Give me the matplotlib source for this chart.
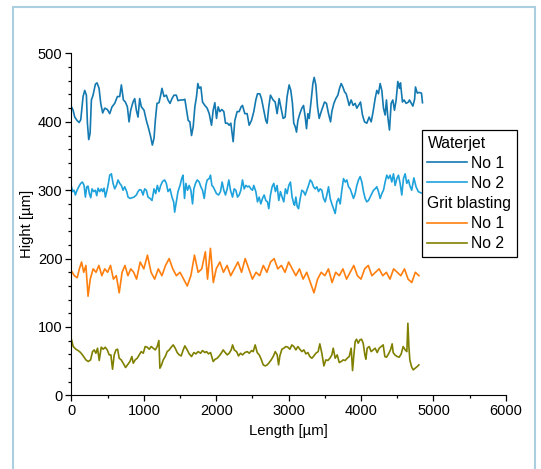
import matplotlib
matplotlib.use("Agg")
import matplotlib.pyplot as plt
from matplotlib.lines import Line2D
from matplotlib.patches import Rectangle
from matplotlib.ticker import MultipleLocator

plt.rcParams['font.family'] = ['Liberation Sans', 'DejaVu Sans']

# --- profile data (Length in um, Hight in um) ---
wj1_x = [0, 23, 46, 78, 106, 129, 161, 184, 207, 221, 239, 258, 276, 299, 331, 354, 382, 405, 432, 460,
         497, 529, 561, 598, 635, 667, 690, 718, 745, 773, 796, 819, 851, 874, 897, 920, 943, 966, 1003, 1035,
         1067, 1095, 1118, 1141, 1159, 1182, 1210, 1233, 1251, 1279, 1311, 1334, 1362, 1389, 1417, 1449, 1472, 1509, 1541,
         1567, 1590, 1613, 1636, 1659, 1682, 1705, 1728, 1746, 1765, 1788, 1811, 1843, 1875, 1903, 1935, 1958, 1981, 2004, 2027,
         2050, 2078, 2105, 2128, 2156, 2179, 2202, 2234, 2257, 2289, 2317, 2344, 2363, 2395, 2427, 2455, 2487, 2519, 2547, 2570,
         2602, 2625, 2657, 2685, 2703, 2726, 2749, 2786, 2814, 2841, 2869, 2892, 2924, 2952, 2979, 3007, 3030, 3053, 3071,
         3091, 3109, 3128, 3155, 3183, 3206, 3229, 3247, 3266, 3284, 3312, 3335, 3353, 3376, 3399, 3422, 3450, 3473, 3496, 3523,
         3551, 3579, 3597, 3625, 3652, 3680, 3703, 3726, 3749, 3772, 3795, 3818, 3836, 3864, 3891, 3919, 3942, 3965, 3993, 4020,
         4048, 4080, 4112, 4140, 4167, 4195, 4218, 4241, 4264, 4287, 4310, 4333, 4351, 4370, 4393, 4416, 4439, 4462, 4485, 4508,
         4531, 4545, 4572, 4595, 4623, 4655, 4669, 4716, 4740, 4752, 4777, 4800, 4835, 4849]
wj1_y = [422, 417, 407, 402, 399, 403, 437, 446, 439, 398, 374, 383, 432, 439, 455, 457, 449, 427, 413, 420,
         418, 412, 422, 427, 437, 437, 454, 432, 429, 422, 400, 417, 429, 434, 417, 407, 434, 422, 417, 402,
         390, 378, 366, 376, 402, 427, 428, 439, 449, 437, 439, 432, 427, 434, 439, 439, 431, 432, 432,
         433, 417, 402, 400, 380, 393, 422, 437, 456, 449, 451, 429, 424, 420, 412, 395, 417, 428, 405, 422,
         415, 418, 415, 398, 398, 395, 398, 371, 402, 415, 415, 422, 424, 412, 412, 395, 402, 415, 432, 441,
         441, 434, 417, 402, 398, 422, 439, 432, 429, 412, 434, 422, 405, 407, 437, 454, 446, 427, 398,
         393, 385, 402, 412, 420, 424, 407, 390, 412, 405, 432, 456, 465, 454, 422, 405, 415, 422, 429, 427,
         412, 400, 415, 427, 434, 439, 449, 456, 451, 444, 441, 432, 424, 432, 424, 427, 420, 424, 429, 410,
         400, 398, 407, 400, 415, 434, 446, 441, 456, 446, 420, 410, 432, 407, 388, 427, 432, 417, 432, 459,
         449, 457, 429, 432, 427, 429, 432, 423, 433, 451, 442, 443, 442, 428]

wj2_x = [0, 18, 37, 55, 74, 101, 129, 152, 175, 193, 212, 230, 248, 267, 285, 308, 331, 350, 368, 391,
         414, 432, 451, 469, 492, 511, 529, 552, 575, 598, 621, 644, 667, 690, 713, 736, 764, 782, 810, 837,
         865, 897, 920, 943, 966, 989, 1012, 1035, 1058, 1086, 1113, 1141, 1164, 1187, 1210, 1233, 1260, 1288, 1311, 1334,
         1362, 1389, 1412, 1426, 1444, 1472, 1500, 1523, 1541,
         1562, 1581, 1604, 1627, 1650, 1673, 1691, 1714, 1737, 1765, 1788, 1811, 1834, 1857, 1875, 1903, 1921, 1940, 1958,
         1981, 2004, 2032, 2059, 2082, 2105, 2128, 2151, 2174, 2197, 2225, 2248, 2271, 2294, 2317, 2340, 2363, 2386, 2409, 2432,
         2455, 2478, 2501, 2519, 2547, 2570, 2593, 2616, 2639, 2662, 2685, 2708, 2726, 2749, 2772, 2795, 2818, 2841, 2864, 2887,
         2910, 2933, 2956, 2979, 3002, 3025, 3048, 3071,
         3082, 3100, 3119, 3137, 3160, 3183, 3206, 3229, 3252, 3275, 3298, 3321, 3344, 3367, 3390, 3413, 3436, 3459, 3482, 3505,
         3528, 3551, 3574, 3597, 3620, 3643, 3666, 3689, 3712, 3735, 3758, 3781, 3804, 3827, 3850, 3873, 3896, 3919, 3942, 3965,
         3988, 4011, 4034, 4057, 4080, 4103, 4126, 4149, 4172, 4195, 4218, 4241, 4264, 4287, 4310, 4333, 4356, 4379, 4402, 4425,
         4448, 4471, 4494, 4517, 4540, 4563, 4586, 4609, 4632, 4655, 4673, 4700, 4730, 4760, 4790, 4830]
wj2_y = [305, 298, 300, 293, 299, 305, 310, 312, 307, 290, 305, 306, 295, 289, 302, 298, 300, 292, 303, 298,
         302, 298, 303, 290, 300, 310, 322, 324, 310, 302, 307, 315, 310, 307, 300, 305, 298, 290, 288, 289,
         290, 293, 298, 301, 300, 293, 302, 300, 290, 288, 285, 302, 295, 307, 298, 307, 313, 315, 310, 298,
         302, 290, 283, 268, 280, 298, 307, 317, 322,
         288, 310, 300, 307, 300, 280, 302, 310, 315, 312, 305, 300, 288, 307, 315, 317, 322, 307, 305,
         300, 295, 293, 298, 312, 300, 293, 302, 315, 300, 290, 302, 300, 290, 293, 300, 315, 302, 307, 305,
         306, 302, 300, 307, 298, 283, 290, 280, 288, 293, 285, 283, 273, 293, 305, 310, 298, 307, 285, 298,
         290, 283, 302, 295, 307, 312, 290, 280,
         278, 290, 276, 273, 288, 300, 298, 293, 300, 307, 315, 312, 305, 302, 305, 298, 302, 300, 288, 283,
         293, 305, 288, 280, 273, 266, 283, 288, 280, 300, 317, 312, 315, 305, 302, 295, 288, 295, 307, 315,
         320, 312, 298, 288, 283, 285, 290, 295, 300, 302, 305, 298, 288, 295, 300, 312, 322, 317, 322, 312,
         324, 307, 317, 322, 310, 293, 317, 324, 310, 315, 307, 300, 318, 305, 298, 296]

gb1_x = [0, 40, 80, 110, 140, 170, 200, 230, 260, 300, 340, 380, 420, 460, 500, 540, 580, 620, 660, 700,
         740, 780, 820, 860, 900, 950, 1000, 1050, 1100, 1150, 1200, 1250, 1300, 1350, 1400, 1450, 1500, 1550, 1600, 1650,
         1700, 1750, 1800, 1850, 1880, 1920, 1960, 2000, 2050, 2100, 2150, 2200, 2250, 2300, 2350, 2400, 2450, 2500, 2550, 2600,
         2650, 2700, 2750, 2800, 2850, 2900, 2950, 3000, 3050, 3100, 3150, 3200, 3250, 3300, 3350, 3400, 3450, 3500, 3550, 3600,
         3650, 3700, 3750, 3800, 3850, 3900, 3950, 4000, 4050, 4100, 4150, 4200, 4250, 4300, 4350, 4400, 4450, 4500, 4550, 4600,
         4650, 4700, 4750, 4800]
gb1_y = [182, 175, 172, 185, 195, 180, 190, 145, 170, 185, 180, 190, 175, 185, 180, 190, 170, 175, 150, 180,
         190, 175, 185, 180, 170, 195, 185, 205, 180, 170, 185, 175, 190, 200, 185, 175, 180, 170, 160, 175,
         205, 180, 185, 210, 170, 215, 165, 185, 195, 180, 190, 175, 185, 195, 180, 200, 185, 170, 180, 175,
         190, 180, 195, 200, 185, 190, 180, 195, 185, 175, 185, 170, 180, 165, 150, 170, 180, 175, 185, 165,
         180, 175, 185, 170, 180, 190, 175, 170, 185, 190, 175, 180, 185, 175, 180, 170, 185, 180, 175, 185,
         170, 165, 180, 175]

gb2_x = [0, 25, 62, 94, 127, 163, 200, 232, 265, 292,
         315, 338, 361, 384, 412, 439, 467, 495, 522, 545,
         568, 591, 615, 638, 660, 688, 716, 748, 775, 808,
         835, 854, 881, 909, 937, 964, 992, 1019, 1047, 1075,
         1102, 1130, 1158, 1185, 1208, 1222, 1245, 1268, 1296, 1323,
         1351, 1378, 1406, 1434, 1461, 1489, 1516, 1544, 1567, 1599,
         1627, 1659, 1691, 1719, 1751, 1784, 1811, 1844, 1866, 1894,
         1922, 1958, 1986, 2014, 2041, 2069, 2096, 2124, 2152, 2179,
         2207, 2226, 2249, 2281, 2308, 2336, 2364, 2396, 2428, 2456,
         2488, 2511, 2538, 2566, 2594, 2621, 2649, 2676, 2704, 2732,
         2759, 2787, 2815, 2842, 2861, 2879, 2907, 2934, 2962, 2990,
         3017, 3045, 3072, 3100, 3128, 3155, 3183, 3210, 3238, 3266,
         3293, 3321, 3349, 3376, 3408, 3431, 3459, 3487, 3514, 3542,
         3570, 3597, 3616, 3643, 3671, 3699, 3726, 3754, 3781, 3809,
         3837, 3864, 3883, 3901, 3919, 3938, 3961, 3984, 4007, 4030,
         4053, 4067, 4085, 4113, 4140, 4168, 4195, 4223, 4251, 4278,
         4306, 4329, 4352, 4380, 4407, 4430, 4444, 4467, 4499, 4527,
         4555, 4582, 4610, 4633, 4647, 4661, 4674, 4697, 4720, 4748,
         4776, 4799]
gb2_y = [82, 71.4, 67.5, 65.5, 62.6, 57.7, 51.9, 49.5, 51.9, 64,
         66.5, 61.6, 69, 51, 70.4, 67.5, 70.4, 66.5, 59.2, 59.2,
         38.2, 59.2, 66.5, 67.5, 54.3, 51.9, 47, 40.7, 44.6, 49.5,
         56.8, 47, 51.9, 54.3, 59.2, 64, 61.6, 71.4, 70.4, 67.5,
         71.4, 69, 66.5, 71.4, 80.2, 39.7, 44.6, 51.9, 56.8, 64,
         66.5, 70.4, 73.8, 69, 62.6, 59.2, 57.7, 66.5, 72.4, 66.5,
         60.7, 56.8, 62.6, 60.7, 64, 61.6, 65.5, 62.6, 64, 60.7,
         62.6, 49.5, 52.9, 54.3, 57.7, 61.6, 66.5, 62.6, 59.2, 61.6,
         66.5, 73.8, 66.5, 64, 57.7, 61.6, 59.2, 62.6, 64, 61.6,
         65.5, 64, 73.8, 62.6, 59.2, 52.9, 44.6, 43.1, 44.6, 48,
         51.9, 56.8, 64, 59.2, 44.6, 57.7, 67.5, 69, 71.4, 70.4,
         67.5, 73.8, 71.4, 66.5, 71.4, 67.5, 64, 66.5, 60.7, 62.6,
         56.8, 54.3, 57.7, 61.6, 64, 75.3, 61.6, 43.1, 51.9, 51,
         54.3, 59.2, 69, 54.3, 59.2, 48, 49.5, 51.9, 51, 54.3,
         56.8, 69, 36.3, 59.2, 78.7, 82.1, 76.3, 81.1, 82.1, 76.3,
         59.2, 52.9, 69, 71.4, 64, 66.5, 69, 62.6, 69, 71.4,
         73.8, 56.8, 55.8, 60.7, 66.5, 75.3, 62.6, 59.2, 56.8, 55.8,
         60.7, 71.4, 66.5, 64, 105.5, 71.4, 51.9, 42.1, 37.3, 39.7,
         42.1, 44.6]

series = [
    ("No 1", wj1_x, wj1_y, "#1479b0"),
    ("No 2", wj2_x, wj2_y, "#1ea2dc"),
    ("No 1", gb1_x, gb1_y, "#ff7f0e"),
    ("No 2", gb2_x, gb2_y, "#808000"),
]
for name, xs, ys, _ in series:
    if len(xs) != len(ys):
        raise ValueError(f"{name}: {len(xs)} x vs {len(ys)} y")

fig = plt.figure(figsize=(5.41, 4.69), dpi=100)
ax = fig.add_axes([0.132, 0.157, 0.803, 0.729])

lines = []
for name, xs, ys, col in series:
    ln, = ax.plot(xs, ys, color=col, lw=1.2, label=name)
    lines.append(ln)

ax.set_xlim(0, 6000)
ax.set_ylim(0, 500)
ax.xaxis.set_major_locator(MultipleLocator(1000))
ax.xaxis.set_minor_locator(MultipleLocator(500))
ax.yaxis.set_major_locator(MultipleLocator(100))
ax.yaxis.set_minor_locator(MultipleLocator(20))
ax.tick_params(which="major", direction="out", length=4, width=0.9, labelsize=10.5, pad=2.5)
ax.tick_params(which="minor", direction="out", length=2.5, width=0.9)
ax.spines["top"].set_visible(False)
ax.spines["right"].set_visible(False)
ax.set_xlabel("Length [µm]", fontsize=10.7, labelpad=4)
ax.set_ylabel("Hight [µm]", fontsize=10.7, labelpad=3)

blank = Line2D([], [], color="none")
handles = [blank, lines[0], lines[1], blank, lines[2], lines[3]]
labels = ["Waterjet", "No 1", "No 2", "Grit blasting", "No 1", "No 2"]
leg = ax.legend(handles, labels, loc="upper left", bbox_to_anchor=(0.807, 0.776),
                borderaxespad=0, fontsize=11.3, frameon=True, fancybox=False,
                edgecolor="black", framealpha=1, handlelength=2.5,
                handletextpad=0.25, labelspacing=0.33, borderpad=0.35)
leg.get_frame().set_linewidth(0.9)
# section headers sit flush left, without a handle slot
for col in leg._legend_handle_box.get_children():
    for row in col.get_children():
        da, ta = row.get_children()
        if ta.get_children()[0].get_text() in ("Waterjet", "Grit blasting"):
            da.width = 0
            row.sep = 0

# light blue frame round the figure
fig.patches.append(Rectangle((13 / 541, -0.02), (535 - 13) / 541, 1.02 - 7 / 469,
                             transform=fig.transFigure, fill=False,
                             edgecolor="#a9cfe0", lw=1.5))

fig.savefig("out.png", dpi=100)
